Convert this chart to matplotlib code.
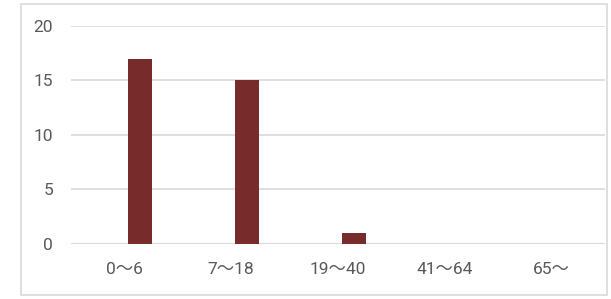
import matplotlib.pyplot as plt
import numpy as np
from matplotlib.patches import Rectangle

categories = ["0〜6", "7〜18", "19〜40", "41〜64", "65〜"]
counts = [17, 15, 1, 0, 0]
y_ticks = [0, 5, 10, 15, 20]

W, H = 611, 299
fig = plt.figure(figsize=(W / 100, H / 100), dpi=100)
fonts = ["Roboto", "Noto Sans CJK JP", "DejaVu Sans"]
text_color = "#595959"
grid_color = "#D9D9D9"

# outer chart border
fig.patches.append(Rectangle((20.5 / W, 1 - 295 / H), 586 / W, 291.5 / H,
                             transform=fig.transFigure, fill=False,
                             edgecolor=grid_color, linewidth=1.2))

left, right, top, bottom = 71, 605, 26, 243.5
ax = fig.add_axes([left / W, 1 - bottom / H, (right - left) / W, (bottom - top) / H])

x = np.arange(len(categories))
ax.bar(x + 0.146, counts, width=0.225, color="#782B2B", zorder=3)

ax.set_xlim(-0.5, len(categories) - 0.5)
ax.set_ylim(0, 20)
ax.set_yticks(y_ticks)
ax.set_xticks(x)
ax.set_xticklabels(categories)
ax.yaxis.grid(True, color=grid_color, linewidth=1.2, zorder=0)
ax.axhline(0, color=grid_color, linewidth=1.5, zorder=2)
for s in ax.spines.values():
    s.set_visible(False)
ax.tick_params(axis="both", length=0, colors=text_color, labelsize=12.5)
ax.tick_params(axis="y", pad=13)
ax.tick_params(axis="x", pad=13)
for lbl in ax.get_xticklabels() + ax.get_yticklabels():
    lbl.set_family(fonts)

fig.savefig("out.png", dpi=100)
